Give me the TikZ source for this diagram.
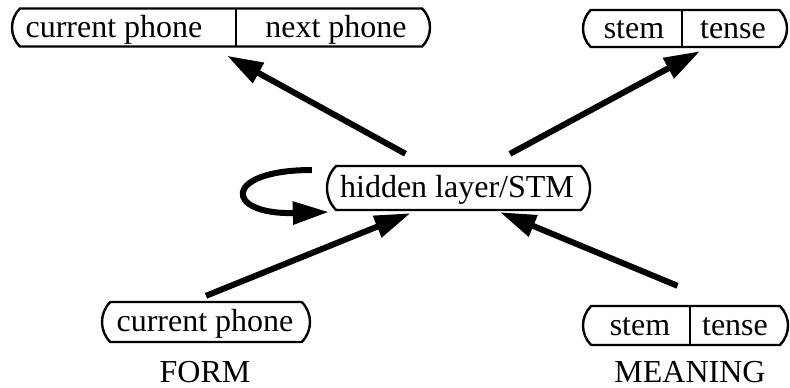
\documentclass[tikz,border=0pt]{standalone}
\usepackage{fontspec}
\setmainfont{Liberation Serif}
\usetikzlibrary{arrows.meta,positioning,shapes.misc}

\begin{document}
\begin{tikzpicture}[x=0.5pt,y=-0.5pt,
		lab/.style={font=\fontsize{16}{19}\selectfont,inner sep=0pt},
		pill/.style={draw=black,line width=1.2pt,rounded rectangle,rounded rectangle arc length=90,inner sep=0pt},
		sep/.style={line width=1.2pt},
		arr/.style={-{Triangle[length=18pt,width=11pt]},line width=3pt}
		]
		
		\useasboundingbox (0,0) rectangle (790,387);
		
		% --- Output units (top)
		\node[pill,minimum width=209pt,minimum height=19pt] (outF) at (221,27.5) {};
		\draw[sep] (236,8) -- (236,47);
		\node[lab] (curOut) at (114,30) {current phone};
		\node[lab] (nxtOut) at (336,30) {next phone};
		
		\node[pill,minimum width=102pt,minimum height=18.5pt] (outM) at (685,28.5) {};
		\draw[sep] (682,10) -- (682,47);
		\node[lab] (stemOut) at (634,30) {stem};
		\node[lab] (tenseOut) at (733,30) {tense};
		
		% --- Hidden layer
		\node[pill,minimum width=131.5pt,minimum height=22pt] (hid) at (458.5,188) {};
		\node[lab] (hidTxt) at (457,190) {hidden layer/STM};
		
		% --- Input units (bottom)
		\node[pill,minimum width=104pt,minimum height=20pt] (inF) at (206,322) {};
		\node[lab] (curIn) at (205,324) {current phone};
		
		\node[pill,minimum width=102.5pt,minimum height=19.5pt] (inM) at (685.5,325.5) {};
		\draw[sep] (690,306) -- (690,345);
		\node[lab] (stemIn) at (640,327) {stem};
		\node[lab] (tenseIn) at (735,327) {tense};
		
		\node[lab] (form) at (205,372) {FORM};
		\node[lab] (meaning) at (690,372) {MEANING};
		
		% --- Connections
		\draw[arr] ([xshift=-26.5pt,yshift=5.5pt]hid.north) -- ([xshift=3pt,yshift=-4pt]outF.south);
		\draw[arr] ([xshift=25.75pt,yshift=5.5pt]hid.north) -- ([xshift=7.5pt,yshift=-1.5pt]outM.south);
		\draw[arr] ([yshift=2.5pt]inF.north) -- ([xshift=-24pt,yshift=-1pt]hid.south);
		\draw[arr] ([xshift=-4pt,yshift=9.5pt]inM.north) -- ([xshift=20.75pt,yshift=-0.5pt]hid.south);
		
		% --- Recurrence
		\draw[arr] ([xshift=-7pt,yshift=9pt]hid.west) .. controls +(-90,0) and +(-105,3) .. ([xshift=1.5pt,yshift=-12pt]hid.west);
		
	\end{tikzpicture}
\end{document}
